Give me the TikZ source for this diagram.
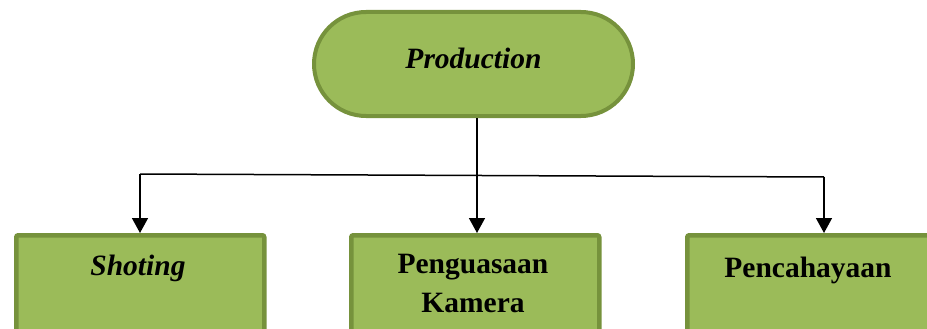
\documentclass[tikz,border=0pt]{standalone}
\usepackage{fontspec}
\setmainfont{Liberation Serif}
\usetikzlibrary{arrows.meta}
\definecolor{olivefill}{HTML}{9BBB59}
\definecolor{olivedraw}{HTML}{76923C}
\tikzset{
  stadium/.style={draw=olivedraw, fill=olivefill, line width=4pt, rounded corners=52pt, minimum width=319pt, minimum height=104pt, inner sep=0pt},
  greenbox/.style={draw=olivedraw, fill=olivefill, line width=4.5pt, rounded corners=2pt, minimum width=248pt, minimum height=140pt, inner sep=0pt, anchor=north west},
  lbl/.style={font=\fontsize{29.5}{39}\selectfont\bfseries, align=center, inner sep=0pt},
  lbli/.style={lbl, font=\fontsize{29.5}{39}\selectfont\bfseries\itshape},
  conn/.style={line width=1.5pt, black},
  arr/.style={conn, -{Triangle[length=15pt,width=16pt]}}
}
\begin{document}
\begin{tikzpicture}[x=1pt,y=-1pt]
\useasboundingbox (0,0) rectangle (927,329);
\clip (0,0) rectangle (927,329);
\node[stadium] (prod) at (473.5,64) {};
\node[lbli] (prodt) at (473.5,58) {Production};
\node[greenbox] (shot) at (14,233) {};
\node[greenbox] (peng) at (349,233) {};
\node[greenbox] (penc) at (685,233) {};
\node[lbli] (shott) at (138,268) {Shoting};
\node[lbl] (pengt) at (473,283) {Penguasaan\\Kamera};
\node[lbl] (penct) at (808,270) {Pencahayaan};
\coordinate (jl) at (140,174);
\coordinate (jr) at (824,177);
\coordinate (pb) at (477,118);
\draw[conn] (jl) -- (jr);
\draw[arr] (pb) -- (pb |- peng.north);
\draw[arr] (jl) -- (jl |- shot.north);
\draw[arr] (jr) -- (jr |- penc.north);
\end{tikzpicture}
\end{document}
